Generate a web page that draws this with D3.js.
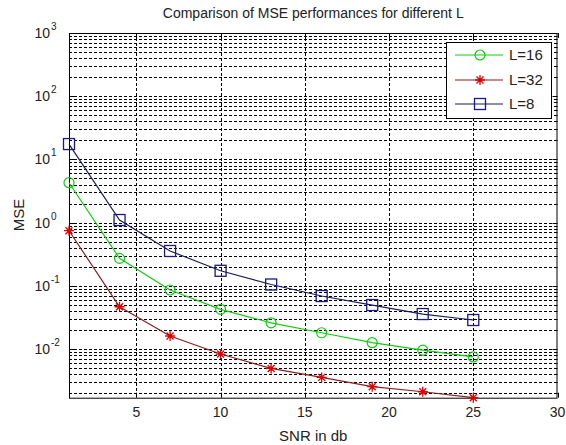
<!DOCTYPE html>
<html>
<head>
<meta charset="utf-8">
<script src="https://cdnjs.cloudflare.com/ajax/libs/d3/7.8.5/d3.min.js"></script>
<style>
  body { margin: 0; background: #fff; }
  svg { display: block; font-family: "Liberation Sans", Arial, sans-serif; }
</style>
</head>
<body>
<div id="chart"></div>
<script>
//Data
const snr = [1, 4, 7, 10, 13, 16, 19, 22, 25];
const mseL16 = [4.28, 0.272, 0.086, 0.0425, 0.026, 0.0181, 0.0126, 0.0096, 0.0075];
const mseL32 = [0.745, 0.0467, 0.0161, 0.00834, 0.00494, 0.00356, 0.00254, 0.00211, 0.0017];
const mseL8 = [17.5, 1.1, 0.356, 0.173, 0.105, 0.069, 0.0497, 0.0358, 0.0288];
const xTicks = [5, 10, 15, 20, 25, 30];
const yDecades = [-2, -1, 0, 1, 2, 3];

//dimensions
const width = 566;
const height = 445;
const plotLeft = 69, plotRight = 557.5, plotTop = 33, plotBottom = 397.7;

const x = d3.scaleLinear().domain([1, 30]).range([plotLeft, plotRight]);
const y = d3.scaleLog().domain([0.0017, 1000]).range([plotBottom, plotTop]);

const svg = d3.select("#chart").append("svg")
    .attr("width", width)
    .attr("height", height);

//grid lines - minor y grid at every 1..9 of each decade
const yGrid = [];
for (let e = -3; e < 3; e++) {
    for (let m = 1; m < 10; m++) {
        const v = m * Math.pow(10, e);
        if (v >= 0.0017 && v <= 1000) yGrid.push(v);
    }
}
yGrid.push(1000);

svg.append("g")
    .selectAll("line")
    .data(yGrid)
    .join("line")
    .attr("x1", plotLeft).attr("x2", plotRight)
    .attr("y1", d => Math.round(y(d)) + 0.5).attr("y2", d => Math.round(y(d)) + 0.5)
    .attr("stroke", "#000")
    .attr("stroke-width", 1)
    .attr("stroke-dasharray", "3,2");

svg.append("g")
    .selectAll("line")
    .data(xTicks.filter(d => d < 30))
    .join("line")
    .attr("x1", d => Math.round(x(d)) + 0.5).attr("x2", d => Math.round(x(d)) + 0.5)
    .attr("y1", plotTop).attr("y2", plotBottom)
    .attr("stroke", "#000")
    .attr("stroke-width", 1)
    .attr("stroke-dasharray", "3,2");

//axes with ticks on all sides (matlab box)
const tickLen = 5;
const ax = svg.append("g");
ax.append("rect")
    .attr("x", plotLeft + 0.5).attr("y", plotTop + 0.5)
    .attr("width", plotRight - plotLeft - 1).attr("height", plotBottom - plotTop)
    .attr("fill", "none").attr("stroke", "#000");

xTicks.forEach(t => {
    const px = Math.round(x(t)) + 0.5;
    ax.append("line").attr("x1", px).attr("x2", px).attr("y1", plotBottom).attr("y2", plotBottom - tickLen).attr("stroke", "#000");
    ax.append("line").attr("x1", px).attr("x2", px).attr("y1", plotTop).attr("y2", plotTop + tickLen).attr("stroke", "#000");
    ax.append("text")
        .attr("x", x(t)).attr("y", plotBottom + 19)
        .attr("text-anchor", "middle")
        .attr("font-size", 14)
        .attr("fill", "#222")
        .text(t);
});

yGrid.forEach(v => {
    const py = Math.round(y(v)) + 0.5;
    const major = Math.abs(Math.log10(v) - Math.round(Math.log10(v))) < 1e-9;
    const len = major ? tickLen : 3;
    ax.append("line").attr("x1", plotLeft).attr("x2", plotLeft + len).attr("y1", py).attr("y2", py).attr("stroke", "#000");
    ax.append("line").attr("x1", plotRight - len).attr("x2", plotRight).attr("y1", py).attr("y2", py).attr("stroke", "#000");
});

yDecades.forEach(e => {
    const py = y(Math.pow(10, e));
    ax.append("text")
        .attr("x", 50).attr("y", py + 5)
        .attr("text-anchor", "end")
        .attr("font-size", 14)
        .attr("fill", "#222")
        .text("10");
    ax.append("text")
        .attr("x", 51).attr("y", py - 3)
        .attr("font-size", 10)
        .attr("fill", "#222")
        .text(e);
});

//title and labels
svg.append("text")
    .attr("x", (plotLeft + plotRight) / 2).attr("y", 18)
    .attr("text-anchor", "middle")
    .attr("font-size", 14)
    .attr("fill", "#222")
    .text("Comparison of MSE performances for different L");

svg.append("text")
    .attr("x", (plotLeft + plotRight) / 2).attr("y", 441)
    .attr("text-anchor", "middle")
    .attr("font-size", 15)
    .attr("fill", "#222")
    .text("SNR in db");

svg.append("text")
    .attr("transform", `translate(24, 215) rotate(-90)`)
    .attr("text-anchor", "middle")
    .attr("font-size", 15)
    .attr("fill", "#222")
    .text("MSE");

//series
const series = [
    { name: "L=16", values: mseL16, line: "#10cc10", marker: "#10cc10", shape: "circle" },
    { name: "L=32", values: mseL32, line: "#8a1f1f", marker: "#e00000", shape: "star" },
    { name: "L=8", values: mseL8, line: "#1c1c5c", marker: "#1a1a80", shape: "square" }
];

const line = d3.line().x(d => x(d[0])).y(d => y(d[1]));

function drawMarker(g, shape, color) {
    if (shape === "circle") {
        g.append("circle").attr("r", 5).attr("fill", "none").attr("stroke", color).attr("stroke-width", 1.2);
    } else if (shape === "square") {
        g.append("rect").attr("x", -5.5).attr("y", -5.5).attr("width", 11).attr("height", 11)
            .attr("fill", "none").attr("stroke", color).attr("stroke-width", 1.3);
    } else {
        g.append("path").attr("d", "M-5,0H5M0,-5V5M-3.5,-3.5L3.5,3.5M-3.5,3.5L3.5,-3.5")
            .attr("stroke", color).attr("stroke-width", 1.3);
        g.append("circle").attr("r", 2).attr("fill", color);
    }
}

const plot = svg.append("g");
series.forEach(s => {
    const pts = snr.map((d, i) => [d, s.values[i]]);
    plot.append("path")
        .attr("d", line(pts))
        .attr("fill", "none")
        .attr("stroke", s.line)
        .attr("stroke-width", 1.2);
    pts.forEach(p => {
        const g = plot.append("g").attr("transform", `translate(${x(p[0])},${y(p[1])})`);
        drawMarker(g, s.shape, s.marker);
    });
});

//legend
const legend = svg.append("g").attr("id", "legend");
legend.append("rect")
    .attr("x", 446.5).attr("y", 42.5)
    .attr("width", 105).attr("height", 76)
    .attr("fill", "#fff").attr("stroke", "#000");
const legY = [55, 80, 104];
series.forEach((s, i) => {
    legend.append("line")
        .attr("x1", 455).attr("x2", 503)
        .attr("y1", legY[i]).attr("y2", legY[i])
        .attr("stroke", s.line).attr("stroke-width", 1.2);
    drawMarker(legend.append("g").attr("transform", `translate(480,${legY[i]})`), s.shape, s.marker);
    legend.append("text")
        .attr("x", 509).attr("y", legY[i] + 5)
        .attr("font-size", 15)
        .attr("fill", "#222")
        .text(s.name);
});
</script>
</body>
</html>
